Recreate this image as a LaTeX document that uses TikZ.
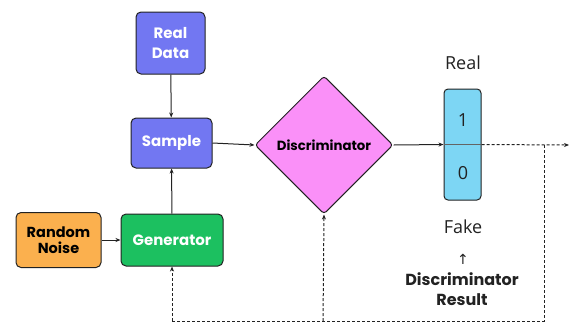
\documentclass[tikz,border=0pt]{standalone}
\usepackage{fontspec}
\setmainfont{Poppins}
\newfontfamily\labelfont{Open Sans}
\newfontfamily\symfont{DejaVu Sans}
\usetikzlibrary{shapes.geometric,arrows.meta}
\definecolor{cblue}{HTML}{7277F2}
\definecolor{cgreen}{HTML}{1CC060}
\definecolor{corange}{HTML}{FBB04E}
\definecolor{cpink}{HTML}{FA90F8}
\definecolor{clight}{HTML}{7DD6F4}
\definecolor{cline}{HTML}{222222}
\tikzset{
  box/.style={draw=cline, line width=1pt, rounded corners=5pt, inner sep=0pt, align=center, font=\bfseries\fontsize{15}{20}\selectfont},
  conn/.style={draw=cline, line width=1pt, -{Stealth[length=5pt,width=4pt]}},
  dconn/.style={draw=cline, line width=1pt, dash pattern=on 3pt off 2pt},
  lbl/.style={font=\labelfont\fontsize{18}{20}\selectfont, text=cline},
}
\begin{document}
\begin{tikzpicture}[x=1pt,y=-1pt]
\useasboundingbox (0,0) rectangle (569,322);
\node[box, fill=cblue, text=white, minimum width=69pt, minimum height=62pt] (realdata) at (170.5,43) {Real\\Data};
\node[box, fill=cblue, text=white, minimum width=81pt, minimum height=50pt] (sample) at (171.5,143) {Sample};
\node[box, fill=cgreen, text=white, minimum width=102pt, minimum height=52pt] (generator) at (172,240) {Generator};
\node[box, fill=corange, text=black, minimum width=85pt, minimum height=55pt, font=\bfseries\fontsize{14.5}{16}\selectfont] (noise) at (58.5,240) {Random\\Noise};
\node[diamond, draw=cline, line width=1pt, fill=cpink, rounded corners=3pt, inner sep=0pt, minimum width=138pt, minimum height=138pt, font=\bfseries\fontsize{13.3}{15}\selectfont] (disc) at (324,145) {Discriminator};
\node[draw=cline, line width=1pt, fill=clight, rounded corners=4pt, minimum width=37pt, minimum height=111pt, inner sep=0pt] (res) at (462.5,144.5) {};
\node[lbl] (one) at (463,120) {1};
\node[lbl] (zero) at (463,173) {0};
\node[lbl] (real) at (463,63) {Real};
\node[lbl] (fake) at (463,227) {Fake};
\node[font=\symfont\fontsize{14}{14}\selectfont, text=cline] (up) at (463,259) {↑};
\node[font=\bfseries\fontsize{16}{20}\selectfont, text=cline, align=center] (result) at (462,289) {Discriminator\\Result};
\coordinate (tip) at (569,145);
\coordinate (br) at (544,145);
\coordinate (bbr) at (544,321);
\coordinate (bgen) at (172,321);
\coordinate (bdisc) at (323,321);
\draw[conn] (realdata) -- (sample);
\draw[conn] (generator) -- (sample);
\draw[conn] (noise) -- (generator);
\draw[conn] (sample.east) -- (disc.west);
\draw[conn] (disc.east) -- (res.west);
\draw[draw=cline!70, line width=0.6pt] (res.west) -- (res.east);
\draw[dconn, -{Stealth[length=5pt,width=4pt]}] (res.east) -- (tip);
\draw[dconn] (br) -- (bbr) -- (bgen);
\draw[dconn, -{Stealth[length=5pt,width=4pt]}] (bgen) -- (generator.south);
\draw[dconn, -{Stealth[length=5pt,width=4pt]}] (bdisc) -- (disc.south);
\end{tikzpicture}
\end{document}
